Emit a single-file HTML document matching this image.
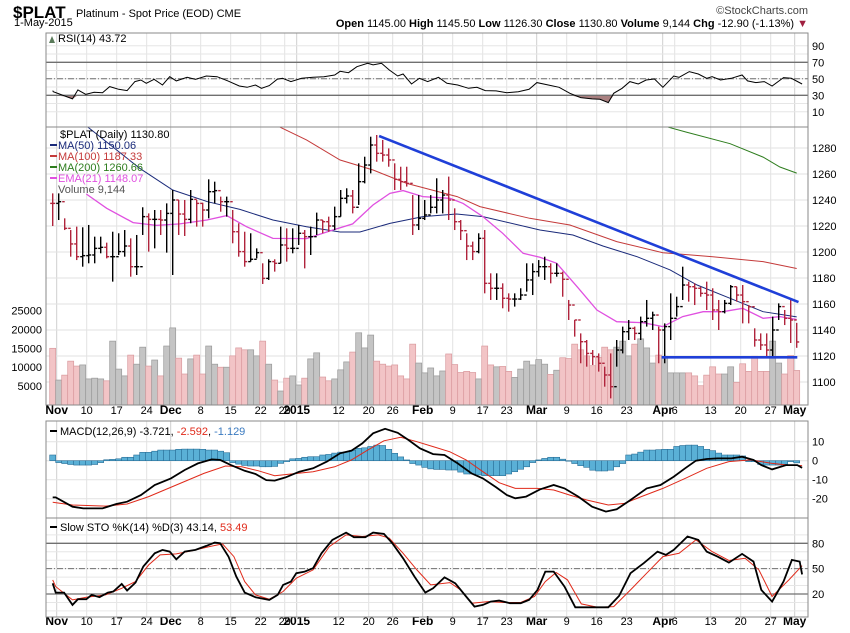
<!DOCTYPE html>
<html><head><meta charset="utf-8">
<style>
body{margin:0;background:#fff;}
svg{display:block;font-family:"Liberation Sans",sans-serif;}
</style></head>
<body>
<svg id="c" width="850" height="633" viewBox="0 0 850 633" xmlns="http://www.w3.org/2000/svg">
<text x="13" y="18" font-size="17" font-weight="bold">$PLAT</text>
<text x="76" y="17" font-size="11">Platinum  - Spot Price (EOD) CME</text>
<text x="14" y="26" font-size="11">1-May-2015</text>
<text x="808" y="14" font-size="11" fill="#444" text-anchor="end">©StockCharts.com</text>
<text x="808" y="27" font-size="11" text-anchor="end"><tspan font-weight="bold">Open</tspan> 1145.00 <tspan font-weight="bold">High</tspan> 1145.50 <tspan font-weight="bold">Low</tspan> 1126.30 <tspan font-weight="bold">Close</tspan> 1130.80 <tspan font-weight="bold">Volume</tspan> 9,144 <tspan font-weight="bold">Chg</tspan> -12.90 (-1.13%) <tspan fill="#a02040">▼</tspan></text>
<g id="g"></g>
</svg>
<script>
// ---- data ----
const tickIdx = [1,6,11,16,20,25,30,35,39,41,48,53,57,62,67,72,76,81,86,91,96,102,104,110,115,120,124];
const tickLbl = ["Nov","10","17","24","Dec","8","15","22","29","2015","12","20","26","Feb","9","17","23","Mar","9","16","23","Apr","6","13","20","27","May"];
const tickBold = [1,0,0,0,1,0,0,0,0,1,0,0,0,1,0,0,0,1,0,0,0,1,0,0,0,0,1];
const hi = [1245.1,1245.1,1225.9,1216.9,1219.5,1219.0,1220.8,1211.8,1211.8,1207.2,
1215.6,1214.4,1216.9,1210.5,1213.1,1234.4,1229.7,1232.3,1232.3,1237.4,
1247.7,1240.0,1240.0,1247.7,1240.0,1237.9,1255.9,1254.1,1242.6,1242.6,
1232.3,1222.1,1215.6,1214.4,1202.8,1191.3,1194.4,1194.4,1219.5,1218.2,
1218.2,1220.8,1216.9,1219.5,1230.3,1224.6,1227.2,1234.9,1247.7,1249.0,
1247.7,1268.2,1273.3,1288.7,1290.0,1286.2,1279.7,1268.2,1265.6,1265.6,
1243.8,1243.8,1240.0,1243.8,1256.7,
1247.7,1258.0,1233.6,1224.6,1214.4,1208.0,1214.4,1216.9,1183.6,1183.6,
1175.9,1168.2,1168.2,1172.1,1191.3,1191.3,1193.8,1196.4,1191.3,1191.3,
1184.9,1163.1,1147.7,1137.4,1132.3,1124.6,1122.0,1111.8,1122.0,1132.3,
1142.6,1147.7,1142.6,1150.3,1163.1,1154.1,1142.6,1145.1,1168.2,1165.6,
1188.7,1177.2,1175.9,1173.3,1177.2,1172.1,1163.1,1163.1,1174.6,1173.3,
1174.6,1159.2,1141.3,1137.4,1137.4,1150.3,1160.5,1155.4,1163.1,1145.5];
const lo = [1220.0,1224.6,1216.9,1196.4,1193.8,1188.7,1191.3,1191.3,1199.0,1195.1,
1177.2,1197.7,1196.4,1181.0,1182.3,1213.1,1200.3,1202.8,1213.1,1199.5,
1182.3,1213.1,1212.3,1222.1,1219.5,1219.5,1225.9,1237.4,1231.0,1227.2,
1206.7,1196.4,1188.7,1192.6,1195.1,1175.4,1178.5,1184.9,1191.3,1192.6,
1199.0,1205.4,1187.4,1197.7,1213.1,1214.4,1215.6,1216.9,1227.2,1237.4,
1229.7,1236.2,1252.8,1260.5,1269.5,1269.5,1265.6,1247.7,1247.7,1250.3,
1213.1,1216.9,1224.6,1229.7,1229.7,
1229.7,1224.6,1216.9,1209.2,1193.8,1193.8,1199.0,1168.2,1163.1,1163.1,
1156.7,1154.1,1158.0,1163.1,1169.5,1166.9,1181.0,1178.5,1175.9,1181.0,
1165.6,1147.7,1134.9,1114.4,1111.8,1113.1,1108.0,1096.4,1087.4,1111.8,
1122.0,1132.3,1132.3,1132.3,1142.6,1140.0,1114.4,1114.4,1132.3,1150.3,
1163.1,1161.8,1159.2,1165.6,1155.4,1147.7,1140.0,1152.8,1159.2,1161.8,
1145.1,1145.1,1127.2,1124.6,1119.5,1119.5,1147.7,1143.8,1130.0,1126.3];
const cl = [1237.4,1238.7,1218.2,1206.2,1196.4,1197.2,1197.7,1202.8,1203.6,1196.4,
1196.4,1200.3,1204.6,1188.7,1188.7,1227.2,1225.1,1225.1,1224.6,1229.7,
1240.0,1229.2,1225.1,1240.5,1237.4,1232.3,1246.4,1247.2,1238.7,1238.7,
1215.6,1200.3,1192.6,1194.4,1199.5,1179.7,1192.6,1191.3,1205.4,1202.8,
1202.8,1214.4,1211.8,1211.8,1224.6,1223.3,1220.0,1227.2,1241.3,1243.1,
1234.4,1254.1,1266.9,1282.3,1275.9,1274.6,1270.8,1255.9,1254.1,1252.8,
1220.8,1225.9,1228.5,1234.4,1240.0,
1243.8,1240.0,1223.3,1216.4,1204.6,1200.3,1210.5,1175.9,1172.1,1172.1,
1164.4,1163.8,1163.8,1166.9,1178.5,1184.9,1188.7,1188.7,1183.6,1183.6,
1179.0,1159.2,1147.7,1131.0,1122.0,1119.5,1114.4,1105.4,1096.4,1124.6,
1138.7,1141.3,1137.4,1146.4,1149.0,1151.5,1140.0,1142.6,1149.0,1158.0,
1174.6,1173.3,1172.1,1168.2,1166.9,1155.4,1154.1,1160.5,1173.3,1166.9,
1161.8,1157.9,1132.3,1128.5,1124.6,1140.0,1158.0,1149.0,1147.7,1130.8];
const vol = [15000,6600,7900,11600,10300,10600,6900,7100,6900,6400,
16900,9500,7700,13200,10800,15300,10300,11900,7700,15600,
20400,12400,8200,12200,13200,8200,15600,10800,10000,10000,
13000,15100,14600,14600,13000,16900,10800,6600,3700,7100,
7700,5300,7100,12200,13800,7400,6400,6900,9300,11400,
14000,19100,15100,18500,11600,10800,10300,10600,7700,6900,
16100,11100,8500,9800,7700,
9000,13500,10700,8600,8900,8600,6900,15600,10600,10100,
10200,8900,7300,9500,11600,10600,12000,10800,8100,9200,
12500,12300,16100,14600,13000,10400,12600,15300,14600,15300,
16900,13000,16100,17500,15100,11100,13200,12900,8500,8500,
8500,8500,7700,5100,7900,10100,8200,8200,10100,6000,
10900,8900,12900,8900,8900,16900,11100,8200,13100,9144];
const ma50Idx = [2,5.9,14.5,20,25.8,31.2,36.7,42.3,47.9,51.2,56.2,61.7,67.3,71.7,81.2,86.7,91.7,97.4,102.9,107.4,112.9,118.4,124];
const ma50Val = [1315,1295.9,1264.4,1247.7,1238.7,1232.8,1224.6,1219.5,1215.4,1215.4,1222,1227.2,1229.2,1227.2,1216.9,1213.1,1204.6,1196.4,1186.2,1174.6,1164.4,1154.1,1150.06];
const ma100Idx = [32,37.9,42.3,47.9,53.4,59,67.4,71.2,79.5,86.2,94,101.7,110,118.4,124];
const ma100Val = [1312,1296,1286.2,1270.8,1263.1,1252.8,1242.6,1234.9,1225.9,1220.8,1208,1199.5,1196.4,1192.6,1187.33];
const ma200Idx = [99,102.6,105.6,112.9,118.4,121.2,124];
const ma200Val = [1304,1296,1292.2,1283.3,1273,1265.4,1260.66];
const emaIdx = [5.6,9,13.4,17.3,21.2,25.7,29,32.3,36.7,42.3,46.7,50,53.4,56.2,58.4,61.7,66.2,68.4,71.7,75,78.4,81.2,84,87.4,90.7,94,98.4,101.7,105,108.4,111.7,115,118.4,121.2,124];
const emaVal = [1244.6,1233.6,1222.6,1220.5,1221.6,1224.6,1228,1219.5,1210.5,1210.3,1216.9,1221.6,1236.2,1245.1,1247.2,1242.6,1241.3,1237.4,1227.2,1214.4,1199,1195.9,1191.3,1173.3,1155.4,1146.4,1145.6,1142.6,1150.3,1154.1,1154.1,1156.7,1149,1150.3,1148.07];
const trendIdx = [54.4,124.3];
const trendVal = [1289.2,1161.5];
const supportIdx = [101.5,124.1];
const supportVal = [1119,1119];
const rsiIdx = [0,0.1,2.3,3.3,4.2,5.5,6.9,8.3,9.5,11,12.4,13.7,14.7,15.6,16.9,18.3,19.5,20.6,22.4,23.8,25.6,27.4,29.2,31.1,32.4,33.8,34.8,36.1,37.4,38.3,39.7,41.5,43.4,45.2,47,47.9,49.3,50.7,52.5,53.4,54.8,56.1,57.5,58.4,59.8,61.1,62.5,64.3,65.7,67.5,69.3,70.7,72.1,73.9,75.7,77.6,79.4,80.7,82.6,84.4,86.2,88,89.9,91.2,92.6,93.5,94.9,96.2,97.6,98.9,100.3,101.7,103.5,104.4,106.1,107.6,109,109.9,111.3,113.1,114.9,115.8,117.2,118.6,119.9,121.8,123.1,124.9];
const rsiVal = [35.7,34.4,28.4,25.6,36.5,31.2,33.6,33.2,40.5,37.3,35.7,46.6,48.6,44.5,49.4,42.5,52.6,47.4,51.8,49.4,53.4,52.6,47.4,41.3,39.7,42.5,38.5,41.7,49.4,50.6,46.6,50.6,51.8,52.6,54.6,59.1,57.4,64.7,68.8,66.8,68.8,60.7,53.4,55.8,43.7,50.6,46.6,51.8,44.5,42.5,38.5,39.7,35.7,35.3,33.2,34.4,37.3,45.4,42.5,39.7,32.4,27.2,25.6,25.1,21.1,32.4,38.5,46.6,43.7,48.6,49.8,39.7,53.4,51.8,58.7,55.8,50.6,52.6,48.6,50.6,54.6,47.4,45.4,46.6,41.3,51.4,50.6,43.72];
const macdIdx = [0,0.5,3.3,5.1,8.3,10.6,12.4,14.7,17,19.7,22,24.2,26.5,27.9,29.7,32,33.8,35.6,37,38.8,41.1,43.4,45.7,47.9,49.8,51.6,53.4,55.4,57.5,59.3,61.2,63.4,65.3,67.5,69.8,71.7,73.9,75.7,77.1,78.9,81.2,83.5,85.3,87.6,89.9,92.2,94,96.3,99,101.3,103.5,105.4,107.2,109,110.8,113.1,114.9,116.8,118.1,119.9,122.2,124.1,124.9];
const macdVal = [-19.3,-19.3,-24.2,-25.1,-25.1,-22.8,-21.6,-18.1,-12.8,-9.3,-4.9,-1.4,0.7,0.4,-2.3,-5.3,-7,-10.2,-10.5,-8.8,-5.8,-4,-0.5,3.9,5.3,9.1,14.4,16.8,14.7,10.9,6.5,3.5,3,-1.4,-6.7,-9.3,-14,-18.1,-19.8,-18.9,-15.1,-12.8,-14.6,-18.9,-24.2,-26.8,-25.6,-20.7,-14.6,-12.8,-8.4,-4,0,0.9,1.2,1.2,2.1,0.4,-2.3,-4.6,-2.3,-2.3,-3.721];
const sigIdx = [0,3.3,8.8,12.4,16,20.6,25.2,28.8,31.5,34.3,37,39.7,43.4,47,49.8,52.5,55.2,58,60.7,63.4,66.2,68.9,71.7,74.4,77.1,80.8,83.5,86.2,89,92.6,95.3,98.1,101.7,105.4,109,112.7,116.3,119.9,122.7,124.9];
const sigVal = [-21.9,-23.3,-23.9,-22.8,-18.9,-12.8,-6.7,-2.8,-3.2,-5.3,-7.9,-7,-5.8,-3.2,0.4,5.6,10.5,12.3,10,7.4,4.7,0.4,-5.8,-11.6,-14.6,-14.6,-15.4,-18.1,-20.7,-23.3,-22.5,-18.9,-14.6,-9.3,-4,-0.5,0.4,-1.4,-2.3,-2.592];
const histVal = [3,-1,-1.5,-2,-2.3,-2.3,-2.3,-2,-1,0.5,0.7,1,1.8,1.8,3,4.4,4.4,5,5.6,5.6,5.6,6,6.1,6.1,6.1,6,5.6,5.6,5,4.2,-1,-1.8,-2.5,-2.8,-2.8,-3.2,-3.2,-3,-1.4,-0.5,1,1.2,1.8,2.1,2.1,3,3.3,4,4.5,4.7,5.5,6.5,6.8,7.5,8.2,8,6,3.9,2,0.4,-1.5,-2.3,-3.5,-4.3,-4.6,-4.6,-4.9,-4.9,-6,-7,-7,-7.5,-7.9,-7.9,-7.9,-7.9,-7,-5.8,-4.5,-3.2,-1,0.4,1.2,1.8,1.8,0.8,0,-1.5,-2.6,-3.5,-5,-5.4,-5.4,-5,-3.2,-1.5,3,3.5,4.5,5.6,5.6,5.8,6,6,7.5,8,8.2,8.2,7.5,6,5.3,4,3,3,3,2.5,-0.5,-0.5,-2,-2.3,-2.3,-2.3,-2,-0.5,-1.129];
const kIdx = [0,0.5,1.9,3.3,4.2,5.6,6.5,7.8,9.2,10.1,11.5,12.4,13.8,15.1,17,18.3,19.5,20.6,22,23.8,25.6,27,27.9,29.3,30.6,32,33.8,36.1,37.5,38.4,39.7,40.6,42,43.4,44.8,46.6,48.9,50.2,52.1,53.4,55.2,56.6,58.4,60.3,62.1,63.4,65.3,67.1,68.9,70.3,71.7,73,74.4,76.2,78,79.4,80.8,82.1,83.5,85.3,87.1,89.9,92.6,94.4,96.3,98.5,100.8,102.2,103.5,105.8,107.6,109,110.8,112.7,114.9,116.8,118.1,119.9,121.8,123.2,124.5,124.9];
const kVal = [32.7,21.7,21.7,7.1,13.8,13.8,18.9,16.2,21.7,22.9,32,24.1,33.5,52.5,68.2,72.2,70.2,61.1,70.2,72.2,76.9,80.9,80.1,64.3,40.6,21.7,16.2,13,18.9,30.8,34.7,44.6,46.5,50.5,68.2,84,92.7,87.2,87.2,92.7,91.1,80.1,62.3,40.6,21.7,26.8,39.8,32.7,17,5.1,7.1,11,12.2,9.1,9.1,13,24.9,46.5,46.5,28.8,4.3,4.3,4.3,17.8,44.6,56.4,70.2,66.3,72.2,88,84,70.2,64.3,57.2,67.5,58.4,24.9,11,34.7,60.4,58.4,43.14];
const dIdx = [0,0.5,3.3,5.6,8.8,11.5,13.8,16,17.9,20.6,23.3,26.1,28.3,30.2,32,33.8,36.1,38.4,40.6,43.4,46.1,48.9,51.6,54.3,56.1,58.4,60.7,63,66.2,68,69.8,72.6,75.3,78,80.3,82.1,83.9,85.8,88.1,90.8,93.5,96.3,99,101.7,104.4,107.2,109.9,112.7,115.4,117.7,119.9,122.7,124.9];
const dVal = [36.7,28.8,13,16.2,18.9,26.8,34.7,54.4,66.3,67.5,71.4,76.1,79.3,64.3,34.7,18.9,13.8,22.9,38.7,48.5,76.1,89.9,88,89.9,86,68.2,48.5,30.8,33.5,24.9,9.1,11,9.9,9.9,17,34.7,45.4,36.7,8.3,4.3,5.1,24.9,44.6,64.3,68.2,84,70.2,59.6,62.3,48.5,17,36.7,53.49];

// ---- scales ----
const L=46,R=808;
const xOf=i=>52.7+6*i;
const yP=p=>148+(1280-p)*1.3;
const yV=v=>405-v*0.00378;
const yR=v=>62.3+(70-v)*0.825;
const yM=v=>460.7-v*1.9;
const yS=v=>610.9-v*0.845;
const NS="http://www.w3.org/2000/svg";
const G=document.getElementById('g');
function mk(tag,attrs,parent){const e=document.createElementNS(NS,tag);for(const k in attrs)e.setAttribute(k,attrs[k]);(parent||G).appendChild(e);return e;}
function txt(s,x,y,attrs,parent){const t=mk('text',Object.assign({x:x,y:y,'font-size':11},attrs),parent);t.textContent=s;return t;}
function pts(idx,val,fy){return idx.map((i,k)=>xOf(i).toFixed(1)+','+fy(val[k]).toFixed(1)).join(' ');}

const panels=[["rsi-panel",33,127],["price-panel",127,405],["macd-panel",421,518],["sto-panel",518,617]];
const defs=mk('defs',{});
panels.forEach((p,k)=>{
  const cp=mk('clipPath',{id:'cp'+k},defs);mk('rect',{x:L,y:p[1],width:R-L,height:p[2]-p[1]},cp);
});
const panelG=panels.map((p,k)=>{
  const r=mk('rect',{x:L,y:p[1],width:R-L,height:p[2]-p[1],fill:'#fff',stroke:'none'});
  
  
  const g=mk('g',{'clip-path':'url(#cp'+k+')'});
  tickIdx.forEach((t,j)=>{mk('line',{x1:xOf(t)-2,x2:xOf(t)-2,y1:p[1],y2:p[2],stroke:tickBold[j]?'#cfcfcf':'#e2e2e2','stroke-width':1},g);});
  return g;
});
function hgrid(g,y,col,dash,w){mk('line',{x1:L,x2:R,y1:y,y2:y,stroke:col,'stroke-width':w||1,'stroke-dasharray':dash||'none'},g);}
[10,20,30,40,50,60,70,80,90].forEach(v=>hgrid(panelG[0],yR(v),'#e6e6e6'));
for(let p=1100;p<=1300;p+=20)hgrid(panelG[1],yP(p),'#e2e2e2');
[-20,-10,0,10].forEach(v=>hgrid(panelG[2],yM(v),'#e2e2e2'));
[0,10,20,30,40,50,60,70,80,90].forEach(v=>hgrid(panelG[3],yS(v),'#e6e6e6'));

// ---- RSI ----
const rg=panelG[0];
const rsiArea=mk('polygon',{points:pts(rsiIdx,rsiVal.map(v=>Math.min(v,30)),yR)+' '+xOf(rsiIdx[rsiIdx.length-1]).toFixed(1)+','+yR(30)+' '+xOf(0)+','+yR(30),fill:'#a98080',stroke:'none'},rg);


hgrid(rg,yR(70),'#707070',null,1.3);hgrid(rg,yR(30),'#707070',null,1.3);hgrid(rg,yR(50),'#707070','6,2,1,2',1);
const rsiLine=mk('polyline',{points:pts(rsiIdx,rsiVal,yR),fill:'none',stroke:'#000','stroke-width':1},rg);


[10,30,50,70,90].forEach(v=>{const t=txt(String(v),812,yR(v)+4,{});});
const rl=txt('RSI(14) 43.72',58,42,{});


mk('polygon',{points:'49,43 52,36 55,43',fill:'#5a7a5a'});

// ---- price panel ----
const pg=panelG[1];
cl.forEach((c,i)=>{
  const up=i>0?c>=cl[i-1]:false;
  const r=mk('rect',{x:xOf(i)-3,y:yV(vol[i]),width:6,height:405-yV(vol[i]),fill:up?'#c4c4c4':'#f2c4c6',stroke:up?'#9a9a9a':'#d99a9e','stroke-width':0.7},pg);
  
  
});
function ln(idx,val,col,w,name){const e=mk('polyline',{points:pts(idx,val,yP),fill:'none',stroke:col,'stroke-width':w},pg);return e;}
ln(ma200Idx,ma200Val,'#2e7d1e',1,'ma200-line');
ln(ma100Idx,ma100Val,'#c43a3a',1,'ma100-line');
ln(ma50Idx,ma50Val,'#1a2a7a',1,'ma50-line');
ln(emaIdx,emaVal,'#e050e0',1.3,'ema21-line');
cl.forEach((c,i)=>{
  const o=i>0?cl[i-1]:c;
  const up=i>0?c>=cl[i-1]:false;
  const col=up?'#000':'#b0243c';
  const g=mk('g',{stroke:col,'stroke-width':1.4},pg);
  
  
  const x=xOf(i);
  mk('line',{x1:x,x2:x,y1:yP(hi[i]),y2:yP(lo[i])},g);
  mk('line',{x1:x-2.5,x2:x,y1:yP(o),y2:yP(o)},g);
  mk('line',{x1:x,x2:x+2.5,y1:yP(c),y2:yP(c)},g);
});
ln(trendIdx,trendVal,'#1f3fd8',2.6,'downtrend-line');
ln(supportIdx,supportVal,'#1f3fd8',2.6,'support-line');
for(let p=1100;p<=1280;p+=20){const t=txt(String(p),812,yP(p)+4,{});}
[5000,10000,15000,20000,25000].forEach(v=>{const t=txt(String(v),42,yV(v)+4,{'text-anchor':'end'});});
const leg=[["$PLAT (Daily) 1130.80","#000"],["MA(50) 1150.06","#1a2a7a"],["MA(100) 1187.33","#c43a3a"],["MA(200) 1260.66","#2e7d1e"],["EMA(21) 1148.07","#e050e0"],["Volume 9,144","#555"]];
leg.forEach((l,k)=>{
  const y=138+k*11;
  if(k>0&&k<5)mk('line',{x1:50,x2:57,y1:y-4,y2:y-4,stroke:l[1],'stroke-width':2});
  const t=txt(l[0],k===0?60:58,y,{fill:l[1]});
  
  
});

// ---- x axis labels ----
[414,625].forEach(yy=>{
  tickIdx.forEach((t,j)=>{
    const e=txt(tickLbl[j],xOf(t)-2,yy,{'text-anchor':'middle','font-weight':tickBold[j]?'bold':'normal','font-size':tickBold[j]?12:11});
    
    
  });
});

// ---- MACD ----
const mg=panelG[2];
histVal.forEach((h,i)=>{
  const y0=yM(0),y1=yM(h);
  const r=mk('rect',{x:xOf(i)-3,y:Math.min(y0,y1),width:6,height:Math.max(0.5,Math.abs(y1-y0)),fill:'#5ab0d6',stroke:'#2a6f97','stroke-width':0.6},mg);
  
  
});
const sl=mk('polyline',{points:pts(sigIdx,sigVal,yM),fill:'none',stroke:'#e02a1a','stroke-width':1},mg);


const ml=mk('polyline',{points:pts(macdIdx,macdVal,yM),fill:'none',stroke:'#000','stroke-width':1.8},mg);


[-20,-10,0,10].forEach(v=>{const t=txt(String(v),812,yM(v)+4,{});});
mk('line',{x1:50,x2:57,y1:431,y2:431,stroke:'#000','stroke-width':2});
const ml2=txt('',60,435,{});
ml2.innerHTML='MACD(12,26,9) -3.721, <tspan fill="#e02a1a">-2.592</tspan>, <tspan fill="#3a7ac0">-1.129</tspan>';



// ---- STO ----
const sg=panelG[3];
hgrid(sg,yS(80),'#707070',null,1.3);hgrid(sg,yS(20),'#707070',null,1.3);hgrid(sg,yS(50),'#707070','6,2,1,2',1);
const dl=mk('polyline',{points:pts(dIdx,dVal,yS),fill:'none',stroke:'#e02a1a','stroke-width':1},sg);


const kl=mk('polyline',{points:pts(kIdx,kVal,yS),fill:'none',stroke:'#000','stroke-width':1.8},sg);


[20,50,80].forEach(v=>{const t=txt(String(v),812,yS(v)+4,{});});
mk('line',{x1:50,x2:57,y1:527,y2:527,stroke:'#000','stroke-width':2});
const sl2=txt('',60,531,{});
sl2.innerHTML='Slow STO %K(14) %D(3) 43.14, <tspan fill="#e02a1a">53.49</tspan>';



panels.forEach(p=>{mk('rect',{x:L,y:p[1],width:R-L,height:p[2]-p[1],fill:'none',stroke:'#8a8a8a','stroke-width':1});});
</script>
</body></html>
